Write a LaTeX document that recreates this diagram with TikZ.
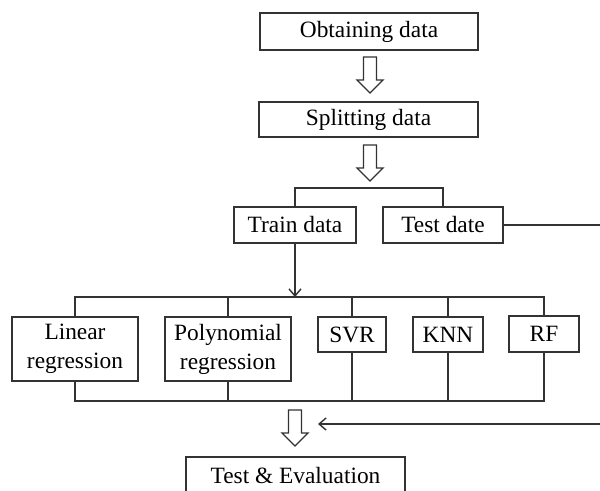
\documentclass[tikz,border=0pt]{standalone}
\usepackage{fontspec}
\setmainfont{Liberation Serif}
\usetikzlibrary{arrows.meta}

\tikzset{
  block/.style={draw=black!80,line width=0.8pt,inner sep=0pt,align=center,
    font=\fontsize{13.3}{16.5}\selectfont},
  wire/.style={draw=black!80,line width=0.8pt},
  hollow/.pic={\draw[wire] (-6.5,0) -- (6.5,0) -- (6.5,23) -- (13,23) -- (0,36)
    -- (-13,23) -- (-6.5,23) -- cycle;}
}

\begin{document}
\begin{tikzpicture}[x=0.02cm,y=-0.02cm,>={Straight Barb[length=1.4mm,width=2.4mm]}]
\useasboundingbox (0,0) rectangle (600,491);

\node[block,minimum width=4.36cm,minimum height=0.74cm](obtain) at (369,31.5){Obtaining data};
\node[block,minimum width=4.38cm,minimum height=0.70cm](split) at (368.5,119.5){Splitting data};
\node[block,minimum width=2.44cm,minimum height=0.72cm](train) at (295,225){Train data};
\node[block,minimum width=2.40cm,minimum height=0.72cm](test) at (443,225){Test date};

\node[block,minimum width=2.52cm,minimum height=1.28cm](linear) at (75,349){Linear\\regression};
\node[block,minimum width=2.52cm,minimum height=1.28cm](poly) at (228,349){Polynomial\\regression};
\node[block,minimum width=1.36cm,minimum height=0.70cm](svr) at (352,334.5){SVR};
\node[block,minimum width=1.40cm,minimum height=0.70cm](knn) at (448,334.5){KNN};
\node[block,minimum width=1.40cm,minimum height=0.72cm](rf) at (544,334){RF};

\node[block,minimum width=4.38cm,minimum height=0.74cm](eval) at (295.5,475.5){Test \& Evaluation};

% hollow arrows between the steps
\pic at (370,57) {hollow};
\pic at (370,145) {hollow};
\pic at (295,410) {hollow};

% split into train / test
\coordinate (fork) at (370,188);
\draw[wire] (train.north) |- (fork) -| (test.north);

% train data to the models
\coordinate (bus) at (295,297);
\coordinate (low) at (295,401);
\draw[wire,->] (train.south) -- (bus);
\draw[wire] (linear.north) |- (bus) -| (rf.north);
\draw[wire] (poly.north) -- (poly.north |- bus)
  (svr.north) -- (svr.north |- bus)
  (knn.north) -- (knn.north |- bus);
\draw[wire] (linear.south) |- (low) -| (rf.south);
\draw[wire] (poly.south) -- (poly.south |- low)
  (svr.south) -- (svr.south |- low)
  (knn.south) -- (knn.south |- low);

% test data goes round to the evaluation
\coordinate (edge) at (603,225);
\coordinate (back) at (318,424);
\draw[wire,->] (test.east) -- (edge) |- (back);

\end{tikzpicture}
\end{document}
